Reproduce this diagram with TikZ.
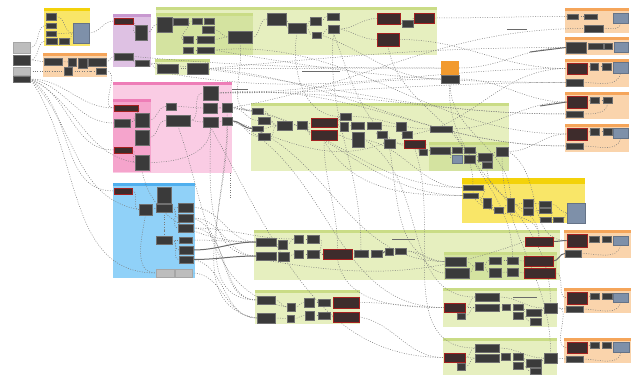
\documentclass[tikz,border=0pt]{standalone}
\usetikzlibrary{calc}
\definecolor{grnL}{HTML}{E6EFBF}
\definecolor{grnD}{HTML}{D4E3A0}
\definecolor{grnH}{HTML}{CADC86}
\definecolor{yelB}{HTML}{F9E668}
\definecolor{yelH}{HTML}{F3D20A}
\definecolor{orgB}{HTML}{FAD4AC}
\definecolor{orgH}{HTML}{F5A55A}
\definecolor{orgS}{HTML}{F29A2E}
\definecolor{purB}{HTML}{DEC1E3}
\definecolor{purH}{HTML}{C898D0}
\definecolor{pnkB}{HTML}{FACCE4}
\definecolor{pnkD}{HTML}{F5A4CC}
\definecolor{pnkH}{HTML}{EE7DB7}
\definecolor{bluB}{HTML}{90D1F8}
\definecolor{bluH}{HTML}{4FAFEE}
\definecolor{nodeF}{HTML}{3A3A3A}
\definecolor{nodeB}{HTML}{707070}
\definecolor{redF}{HTML}{3E2C2C}
\definecolor{redB}{HTML}{A52020}
\definecolor{panel}{HTML}{7E90A9}
\definecolor{lgray}{HTML}{BDBDBD}
\definecolor{wireC}{HTML}{7A7A7A}
\definecolor{busC}{HTML}{6A6A6A}
\pgfdeclarelayer{back}
\pgfdeclarelayer{mid}
\pgfsetlayers{back,mid,main}
\tikzset{
  dk/.style={rectangle,draw=nodeB,fill=nodeF,line width=0.4pt,inner sep=0pt},
  rd/.style={rectangle,draw=redB,fill=redF,line width=0.7pt,inner sep=0pt},
  bg/.style={rectangle,draw=panel!80!black,fill=panel,line width=0.3pt,inner sep=0pt},
  lg/.style={rectangle,draw=gray!70,fill=lgray,line width=0.3pt,inner sep=0pt},
  og/.style={rectangle,draw=none,fill=orgS,inner sep=0pt},
  wire/.style={draw=wireC,line width=0.5pt,dash pattern=on 0.9pt off 1.5pt},
  bus/.style={draw=busC,line width=1.0pt},
}
\newcommand\bx[6][dk]{\node[#1,minimum width={#5pt-#3pt},minimum height={#6pt-#4pt}] (#2) at ({(#3+#5)/2},{(#4+#6)/2}) {};}
\newcommand\grp[6]{\fill[#1] (#3,#4) rectangle (#5,#6); \fill[#2] (#3,#4) rectangle (#5,{#4+3});}
\begin{document}
\begin{tikzpicture}[x=1pt,y=-1pt]
\useasboundingbox (0,0) rectangle (633,375);
% ---------------- groups ----------------
\begin{pgfonlayer}{back}
\fill[white] (0,0) rectangle (633,375);
\grp{yelB}{yelH}{44}{8}{90}{46}
\grp{orgB}{orgH}{43}{53}{107}{77}
\grp{purB}{purH}{113}{14}{151}{67}
\grp{grnL}{grnH}{156}{7}{437}{55}
\grp{grnD}{grnH}{156}{13}{253}{55}
\grp{grnL}{grnH}{155}{59}{210}{75}
\grp{pnkB}{pnkH}{113}{82}{232}{173}
\grp{pnkD}{pnkH}{113}{99}{151}{172}
\grp{grnL}{grnH}{251}{103}{509}{171}
\grp{grnD}{grnH}{429}{142}{509}{171}
\grp{bluB}{bluH}{113}{183}{195}{278}
\grp{yelB}{yelH}{462}{178}{585}{223}
\fill[yelH] (462,178) rectangle (585,184);
\grp{grnL}{grnH}{254}{230}{560}{280}
\grp{grnD}{grnH}{444}{252}{557}{280}
\grp{grnL}{grnH}{255}{290}{360}{324}
\grp{grnL}{grnH}{443}{288}{557}{327}
\grp{grnL}{grnH}{443}{338}{557}{375}
\grp{orgB}{orgH}{565}{8}{629}{33}
\grp{orgB}{orgH}{565}{37}{629}{55}
\grp{orgB}{orgH}{565}{59}{629}{87}
\grp{orgB}{orgH}{565}{92}{629}{119}
\grp{orgB}{orgH}{565}{124}{629}{152}
\grp{orgB}{orgH}{564}{230}{631}{258}
\grp{orgB}{orgH}{564}{288}{631}{313}
\grp{orgB}{orgH}{564}{338}{631}{363}
\end{pgfonlayer}
% ---------------- nodes ----------------
% inputs
\bx[lg]{i1}{13}{42}{30}{53}
\bx{i2}{13}{55}{30}{65}
\bx[lg]{i3}{13}{67}{30}{75}
\bx{i4}{13}{76}{30}{82}
% yellow left
\bx{y1}{46}{13}{56}{20}
\bx{y2}{46}{23}{56}{28}
\bx{y3}{46}{31}{56}{36}
\bx{y4}{46}{38}{57}{44}
\bx{y5}{59}{38}{69}{44}
\bx[bg]{ypanel}{73}{23}{89}{43}
% orange left
\bx{o1}{44}{58}{62}{65}
\bx{o2}{68}{58}{76}{66}
\bx{o3}{78}{58}{87}{68}
\bx{o4}{88}{58}{106}{66}
\bx{o5}{64}{67}{72}{75}
\bx{o6}{96}{68}{106}{74}
% purple
\bx[rd]{p1}{114}{18}{133}{24}
\bx{p2}{135}{25}{147}{40}
\bx{p3}{114}{53}{133}{60}
\bx{p4}{135}{60}{149}{66}
% top green
\bx{t1}{157}{17}{172}{32}
\bx{t2}{173}{18}{188}{25}
\bx{t3}{192}{18}{202}{24}
\bx{t4}{204}{18}{214}{24}
\bx{t5}{202}{26}{214}{33}
\bx{t6}{183}{36}{193}{43}
\bx{t7}{197}{36}{214}{43}
\bx{t8}{183}{47}{193}{53}
\bx{t9}{197}{47}{214}{53}
\bx{t10}{228}{31}{252}{43}
\bx{t11}{267}{13}{286}{25}
\bx{t12}{288}{23}{306}{33}
\bx{t13}{310}{17}{321}{25}
\bx{t14}{312}{32}{321}{38}
\bx{t15}{327}{13}{339}{20}
\bx{t16}{328}{25}{339}{33}
\bx[rd]{t17}{377}{13}{400}{24}
\bx{t18}{402}{20}{413}{27}
\bx[rd]{t19}{414}{13}{434}{23}
\bx[rd]{t20}{377}{33}{399}{46}
% small green
\bx{s1}{157}{64}{178}{73}
\bx{s2}{187}{63}{208}{74}
% pink
\bx[rd]{k1}{114}{105}{138}{111}
\bx{k2}{135}{113}{149}{127}
\bx{k3}{114}{119}{130}{127}
\bx{k4}{135}{130}{149}{145}
\bx[rd]{k5}{114}{147}{132}{153}
\bx{k6}{135}{155}{149}{170}
\bx{k7}{166}{103}{176}{110}
\bx{k8}{166}{115}{190}{126}
\bx{k9}{203}{86}{218}{100}
\bx{k10}{203}{103}{217}{113}
\bx{k11}{222}{103}{232}{112}
\bx{k12}{203}{117}{218}{127}
\bx{k13}{222}{117}{232}{125}
% small orange
\bx[og]{q1}{441}{61}{459}{75}
\bx{q2}{441}{75}{459}{83}
% middle green
\bx{m1}{252}{108}{263}{114}
\bx{m2}{258}{117}{270}{124}
\bx{m3}{252}{126}{263}{131}
\bx{m4}{258}{133}{270}{140}
\bx{m5}{277}{121}{292}{130}
\bx{m6}{297}{121}{307}{129}
\bx[rd]{m7}{311}{118}{337}{127}
\bx[rd]{m8}{311}{130}{337}{140}
\bx{m9}{340}{113}{351}{120}
\bx{m10}{340}{122}{348}{131}
\bx{m11}{351}{122}{364}{129}
\bx{m12}{352}{132}{364}{147}
\bx{m13}{367}{122}{381}{129}
\bx{m14}{377}{131}{387}{138}
\bx{m15}{384}{139}{395}{148}
\bx{m16}{396}{122}{406}{131}
\bx{m17}{402}{131}{412}{138}
\bx[rd]{m18}{404}{140}{425}{148}
\bx{m19}{419}{149}{427}{155}
\bx{m20}{430}{126}{452}{132}
\bx{n1}{430}{147}{450}{154}
\bx{n2}{452}{147}{462}{153}
\bx[bg]{n3}{452}{155}{462}{163}
\bx{n4}{464}{147}{475}{153}
\bx{n5}{464}{155}{475}{163}
\bx{n6}{478}{153}{492}{161}
\bx{n7}{482}{162}{492}{168}
\bx{n8}{496}{147}{508}{156}
% right orange groups
\bx{r1a}{567}{14}{578}{19}
\bx{r1b}{584}{14}{597}{19}
\bx[bg]{r1c}{613}{13}{628}{23}
\bx{r1d}{584}{25}{603}{32}
\bx{r2a}{566}{42}{586}{53}
\bx{r2b}{588}{43}{603}{49}
\bx{r2c}{604}{43}{612}{49}
\bx[bg]{r2d}{614}{42}{628}{52}
\bx[rd]{r3a}{567}{63}{587}{74}
\bx{r3b}{590}{63}{598}{70}
\bx{r3c}{602}{63}{611}{70}
\bx[bg]{r3d}{613}{62}{628}{73}
\bx{r3e}{566}{79}{583}{86}
\bx[rd]{r4a}{567}{96}{587}{108}
\bx{r4b}{590}{97}{599}{103}
\bx{r4c}{603}{97}{612}{103}
\bx{r4e}{566}{111}{583}{117}
\bx[rd]{r5a}{567}{128}{587}{140}
\bx{r5b}{590}{128}{599}{135}
\bx{r5c}{603}{128}{612}{135}
\bx[bg]{r5d}{613}{128}{628}{138}
\bx{r5e}{566}{143}{583}{149}
\bx[rd]{r6a}{567}{234}{587}{247}
\bx{r6b}{589}{236}{599}{242}
\bx{r6c}{602}{236}{611}{242}
\bx[bg]{r6d}{613}{236}{628}{245}
\bx{r6e}{565}{250}{581}{257}
\bx[rd]{r7a}{567}{292}{587}{304}
\bx{r7b}{590}{293}{599}{299}
\bx{r7c}{602}{293}{612}{299}
\bx[bg]{r7d}{613}{293}{628}{302}
\bx{r7e}{566}{306}{583}{312}
\bx[rd]{r8a}{567}{342}{587}{353}
\bx{r8b}{590}{342}{599}{348}
\bx{r8c}{602}{342}{611}{348}
\bx[bg]{r8d}{613}{342}{629}{352}
\bx{r8e}{566}{356}{583}{362}
% yellow right
\bx{w1}{463}{185}{483}{190}
\bx{w2}{463}{193}{478}{198}
\bx{w3}{483}{198}{491}{208}
\bx{w4}{494}{207}{503}{213}
\bx{w5}{507}{198}{514}{212}
\bx{w6}{523}{199}{533}{207}
\bx{w7}{523}{208}{533}{215}
\bx{w8}{539}{201}{551}{207}
\bx{w9}{539}{208}{551}{213}
\bx{w10}{540}{217}{551}{222}
\bx{w11}{553}{217}{563}{222}
\bx[bg]{w12}{567}{203}{585}{223}
% blue
\bx[rd]{c1}{114}{188}{132}{194}
\bx{c2}{157}{187}{171}{203}
\bx{c3}{139}{204}{152}{215}
\bx{c4}{156}{204}{172}{212}
\bx{c5}{178}{203}{193}{212}
\bx{c6}{178}{214}{193}{222}
\bx{c7}{178}{224}{193}{232}
\bx{c8}{156}{236}{172}{244}
\bx{c9}{179}{237}{192}{243}
\bx{c10}{179}{246}{193}{254}
\bx{c11}{179}{256}{193}{263}
\bx[lg]{c12}{156}{269}{174}{277}
\bx[lg]{c13}{175}{269}{192}{277}
% middle-lower green
\bx{l1}{256}{238}{276}{246}
\bx{l2}{256}{252}{276}{260}
\bx{l3}{278}{240}{287}{249}
\bx{l4}{278}{252}{289}{261}
\bx{l5}{294}{235}{303}{243}
\bx{l6}{294}{250}{303}{258}
\bx{l7}{307}{235}{319}{243}
\bx{l8}{307}{250}{319}{258}
\bx[rd]{l9}{323}{249}{352}{259}
\bx{l10}{354}{250}{368}{257}
\bx{l11}{371}{250}{382}{257}
\bx{l12}{385}{248}{393}{255}
\bx{l13}{395}{248}{406}{254}
\bx[rd]{l14}{525}{237}{553}{246}
\bx{u1}{445}{257}{466}{266}
\bx{u2}{445}{268}{469}{278}
\bx{u3}{475}{262}{483}{270}
\bx{u4}{489}{257}{501}{264}
\bx{u5}{489}{268}{501}{277}
\bx{u6}{507}{257}{518}{264}
\bx{u7}{507}{268}{518}{276}
\bx[rd]{u8}{524}{256}{553}{266}
\bx[rd]{u9}{524}{268}{555}{278}
% lower-left green
\bx{v1}{257}{296}{275}{304}
\bx{v2}{257}{313}{275}{323}
\bx{v3}{287}{303}{295}{311}
\bx{v4}{287}{315}{294}{322}
\bx{v5}{304}{298}{314}{307}
\bx{v6}{305}{311}{314}{320}
\bx{v7}{318}{299}{330}{306}
\bx{v8}{318}{312}{330}{319}
\bx[rd]{v9}{333}{297}{359}{308}
\bx[rd]{v10}{333}{312}{359}{322}
% lower-right green 1
\bx{a1}{475}{293}{499}{301}
\bx{a2}{475}{304}{499}{311}
\bx[rd]{a3}{444}{303}{465}{312}
\bx{a4}{457}{313}{465}{319}
\bx{a5}{502}{304}{510}{310}
\bx{a6}{513}{304}{523}{310}
\bx{a7}{513}{312}{523}{319}
\bx{a8}{526}{309}{541}{316}
\bx{a9}{530}{318}{541}{325}
\bx{a10}{544}{303}{557}{313}
% lower-right green 2
\bx{b1}{475}{344}{499}{352}
\bx{b2}{475}{354}{499}{362}
\bx[rd]{b3}{444}{353}{465}{362}
\bx{b4}{457}{363}{465}{370}
\bx{b5}{501}{353}{510}{360}
\bx{b6}{513}{353}{523}{360}
\bx{b7}{513}{362}{523}{369}
\bx{b8}{526}{359}{541}{367}
\bx{b9}{530}{368}{541}{374}
\bx{b10}{544}{353}{557}{363}
% ---------------- connectors ----------------
\begin{pgfonlayer}{mid}
% inputs
\draw[wire] (i1.east) to[out=0,in=180] (y2.west);
\draw[wire] (i2.east) to[out=0,in=180] (y4.west);
\draw[wire] (i2.east) to[out=0,in=180] (o1.west);
\draw[wire] (i3.east) to[out=0,in=180] (o5.west);
\draw[wire] (i4.east) to[out=0,in=180] (k1.west);
\draw[wire] (i4.east) to[out=-10,in=180] (k3.west);
\draw[wire] (i4.east) to[out=-20,in=180] (k5.west);
\draw[wire] (i4.east) to[out=-35,in=180] (c1.west);
\draw[wire] (i4.east) to[out=-25,in=170] (k6.west);
\draw[wire] (i4.east) to[out=-45,in=170] (c3.west);
\draw[wire] (i4.east) to[out=-55,in=180] (c12.west);
% yellow / orange / purple
\draw[wire] (y1.east) to[out=0,in=180] (ypanel.west);
\draw[wire] (y3.east) to[out=0,in=180] (ypanel.west);
\draw[wire] (y5.east) to[out=0,in=180] (ypanel.west);
\draw[wire] (ypanel.east) to[out=0,in=180] (p1.west);
\draw[wire] (o1.east) -- (o2.west);
\draw[wire] (o3.east) -- (o4.west);
\draw[wire] (o5.east) to[out=0,in=180] (o6.west);
\draw[wire] (o4.east) to[out=0,in=180] (p3.west);
\draw[wire] (o6.east) to[out=0,in=180] (k1.west);
\draw[wire] (p1.east) to[out=0,in=180] (p2.west);
\draw[wire] (p2.east) to[out=0,in=180] (t1.west);
\draw[wire] (p4.east) to[out=0,in=180] (s1.west);
\draw[wire] (p3.east) to[out=0,in=180] (p4.west);
% top green
\draw[wire] (t1.east) -- (t2.west);
\draw[wire] (t2.east) -- (t3.west);
\draw[wire] (t3.east) -- (t4.west);
\draw[wire] (t2.east) to[out=0,in=180] (t6.west);
\draw[wire] (t6.east) -- (t7.west);
\draw[wire] (t8.east) -- (t9.west);
\draw[wire] (t5.east) to[out=0,in=180] (t10.west);
\draw[wire] (t7.east) to[out=0,in=180] (t10.west);
\draw[wire] (t10.east) to[out=0,in=180] (t11.west);
\draw[wire] (t11.east) to[out=0,in=180] (t12.west);
\draw[wire] (t12.east) to[out=0,in=180] (t13.west);
\draw[wire] (t12.east) to[out=0,in=180] (t14.west);
\draw[wire] (t13.east) to[out=0,in=180] (t15.west);
\draw[wire] (t14.east) to[out=0,in=180] (t16.west);
\draw[wire] (t16.east) to[out=0,in=180] (t17.west);
\draw[wire] (t17.east) to[out=0,in=180] (t18.west);
\draw[wire] (t18.east) to[out=0,in=180] (t19.west);
\draw[wire] (t19.east) to[out=0,in=180] (r1a.west);
\draw[wire] (t20.east) to[out=0,in=180] (r3a.west);
\draw[wire] (t16.east) to[out=-10,in=180] (t20.west);
\draw[wire] (t12.south) to[out=-100,in=180] (m9.west);
\draw[wire] (t10.south) to[out=-80,in=180] (m1.west);
% small green / long right
\draw[wire] (s1.east) -- (s2.west);
\draw[wire] (s2.east) to[out=0,in=180] (q1.west);
\draw[wire] (s2.east) to[out=5,in=180] (r2a.west);
\draw[wire] (t9.east) to[out=-10,in=180] (r3e.west);
\draw[wire] (p4.east) to[out=-5,in=180] (r4e.west);
\draw[wire] (p3.east) to[out=-5,in=180] (q1.west);
\draw[wire] (s1.south) to[out=-10,in=180] (r3a.west);
\draw[wire] (q2.east) to[out=0,in=180] (r4a.west);
\draw[wire] (q1.east) to[out=0,in=180] (r2a.west);
\draw[wire] (t14.east) to[out=-20,in=180] (q2.west);
% pink internal
\draw[wire] (k1.east) to[out=0,in=180] (k2.west);
\draw[wire] (k3.east) to[out=0,in=180] (k2.west);
\draw[wire] (k5.east) to[out=0,in=180] (k6.west);
\draw[wire] (k2.east) to[out=0,in=180] (k7.west);
\draw[wire] (k4.east) to[out=0,in=180] (k8.west);
\draw[wire] (k7.east) to[out=0,in=180] (k10.west);
\draw[wire] (k8.east) to[out=0,in=180] (k12.west);
\draw[wire] (k8.east) to[out=0,in=180] (k9.west);
\draw[wire] (k10.east) -- (k11.west);
\draw[wire] (k12.east) -- (k13.west);
\draw[wire] (k6.east) to[out=0,in=-90] (k12.south);
% pink to middle green and beyond
\draw[wire] (k11.east) to[out=0,in=180] (m1.west);
\draw[wire] (k11.east) to[out=0,in=180] (m2.west);
\draw[bus] (k13.east) to[out=0,in=180] (m3.west);
\draw[wire] (k13.east) to[out=0,in=180] (m4.west);
\draw[wire] (k9.east) to[out=0,in=180] (r3e.west);
\draw[wire] (k9.east) to[out=5,in=180] (r5e.west);
\draw[wire] (k9.east) to[out=2,in=180] (r4e.west);
\draw[wire] (k10.east) to[out=0,in=180] (w1.west);
\draw[wire] (k11.east) to[out=-5,in=180] (w2.west);
\draw[wire] (k13.east) to[out=-15,in=180] (u1.west);
\draw[wire] (k13.east) to[out=-25,in=180] (a3.west);
\draw[wire] (k12.south) to[out=-60,in=180] (b3.west);
\draw[wire] (k9.east) to[out=0,in=180] (q2.west);
% middle green internal
\draw[wire] (m1.east) to[out=0,in=180] (m5.west);
\draw[wire] (m2.east) to[out=0,in=180] (m5.west);
\draw[wire] (m3.east) to[out=0,in=180] (m5.west);
\draw[wire] (m4.east) to[out=0,in=180] (m5.west);
\draw[wire] (m5.east) -- (m6.west);
\draw[wire] (m6.east) to[out=0,in=180] (m7.west);
\draw[wire] (m6.east) to[out=0,in=180] (m8.west);
\draw[wire] (m7.east) to[out=0,in=180] (m9.west);
\draw[wire] (m7.east) to[out=0,in=180] (m10.west);
\draw[wire] (m10.east) -- (m11.west);
\draw[wire] (m11.east) -- (m13.west);
\draw[wire] (m8.east) to[out=0,in=180] (m12.west);
\draw[wire] (m13.east) to[out=0,in=180] (m14.west);
\draw[wire] (m14.east) to[out=0,in=180] (m15.west);
\draw[wire] (m13.east) -- (m16.west);
\draw[wire] (m16.east) to[out=0,in=180] (m17.west);
\draw[wire] (m15.east) to[out=0,in=180] (m18.west);
\draw[wire] (m18.east) to[out=0,in=180] (m19.west);
\draw[wire] (m9.east) to[out=0,in=180] (m20.west);
\draw[wire] (m19.east) to[out=0,in=180] (n1.west);
\draw[wire] (n1.east) -- (n2.west);
\draw[wire] (n1.east) to[out=0,in=180] (n3.west);
\draw[wire] (n2.east) -- (n4.west);
\draw[wire] (n3.east) -- (n5.west);
\draw[wire] (n4.east) to[out=0,in=180] (n6.west);
\draw[wire] (n5.east) to[out=0,in=180] (n7.west);
\draw[wire] (n6.east) to[out=0,in=180] (n8.west);
\draw[wire] (m3.south) to[out=-20,in=200] (m15.west);
% middle green to right
\draw[wire] (m20.east) to[out=0,in=180] (r4a.west);
\draw[wire] (n8.east) to[out=0,in=180] (r5a.west);
\draw[wire] (m17.east) to[out=10,in=180] (r3a.west);
\draw[wire] (m12.east) to[out=-30,in=180] (a1.west);
\draw[wire] (m15.south) to[out=-80,in=180] (u1.west);
\draw[wire] (m18.south) to[out=-70,in=180] (b1.west);
\draw[wire] (n8.east) to[out=-30,in=180] (r6a.west);
\draw[wire] (m8.south) to[out=-60,in=180] (w2.west);
\draw[wire] (m12.east) to[out=-10,in=180] (w1.west);
\draw[wire] (n7.south) to[out=-90,in=90] (l14.north);
\draw[wire] (m8.south) to[out=-90,in=90] (l9.north);
\draw[bus] (540,106) -- (r4a.west);
\draw[bus] (530,52) -- (r2a.west);
% right orange internal
\draw[wire] (r1a.east) -- (r1b.west);
\draw[wire] (r1d.east) to[out=0,in=-90] (r1c.south);
\draw[wire] (r2a.east) -- (r2b.west);
\draw[wire] (r2b.east) -- (r2c.west);
\draw[wire] (r2c.east) -- (r2d.west);
\draw[wire] (r3a.east) -- (r3b.west);
\draw[wire] (r3b.east) -- (r3c.west);
\draw[wire] (r3c.east) -- (r3d.west);
\draw[wire] (r3e.east) to[out=0,in=-100] (r3d.south);
\draw[wire] (r4a.east) -- (r4b.west);
\draw[wire] (r4b.east) -- (r4c.west);
\draw[wire] (r4e.east) to[out=0,in=-90] (r4c.south);
\draw[wire] (r5a.east) -- (r5b.west);
\draw[wire] (r5b.east) -- (r5c.west);
\draw[wire] (r5c.east) -- (r5d.west);
\draw[wire] (r5e.east) to[out=0,in=-100] (r5d.south);
\draw[wire] (r6a.east) -- (r6b.west);
\draw[wire] (r6b.east) -- (r6c.west);
\draw[wire] (r6c.east) -- (r6d.west);
\draw[wire] (r6e.east) to[out=0,in=-100] (r6d.south);
\draw[wire] (r7a.east) -- (r7b.west);
\draw[wire] (r7b.east) -- (r7c.west);
\draw[wire] (r7c.east) -- (r7d.west);
\draw[wire] (r7e.east) to[out=0,in=-100] (r7d.south);
\draw[wire] (r8a.east) -- (r8b.west);
\draw[wire] (r8b.east) -- (r8c.west);
\draw[wire] (r8c.east) -- (r8d.west);
\draw[wire] (r8e.east) to[out=0,in=-100] (r8d.south);
% yellow right
\draw[wire] (w1.east) to[out=0,in=180] (w3.west);
\draw[wire] (w2.east) to[out=0,in=180] (w3.west);
\draw[wire] (w3.east) to[out=0,in=180] (w4.west);
\draw[wire] (w4.east) to[out=0,in=180] (w5.west);
\draw[wire] (w5.east) to[out=0,in=180] (w6.west);
\draw[wire] (w5.east) to[out=0,in=180] (w7.west);
\draw[wire] (w6.east) -- (w8.west);
\draw[wire] (w7.east) -- (w9.west);
\draw[wire] (w9.east) to[out=0,in=180] (w11.west);
\draw[wire] (w10.east) -- (w11.west);
\draw[wire] (w11.east) to[out=0,in=180] (w12.west);
\draw[wire] (w8.east) to[out=0,in=180] (w12.west);
% blue internal
\draw[wire] (c1.east) to[out=0,in=180] (c3.west);
\draw[wire] (c3.east) -- (c4.west);
\draw[wire] (c2.south) to[out=-90,in=90] (c4.north);
\draw[wire] (c4.east) -- (c5.west);
\draw[wire] (c4.east) to[out=0,in=180] (c6.west);
\draw[wire] (c4.east) to[out=0,in=180] (c7.west);
\draw[wire] (c4.south) to[out=-90,in=90] (c8.north);
\draw[wire] (c8.east) to[out=0,in=180] (c9.west);
\draw[wire] (c8.east) to[out=0,in=180] (c10.west);
\draw[wire] (c8.east) to[out=0,in=180] (c11.west);
\draw[wire] (c3.south) to[out=-100,in=180] (c12.west);
% blue to lower greens
\draw[wire] (c5.east) to[out=0,in=180] (l1.west);
\draw[wire] (c6.east) to[out=0,in=180] (l2.west);
\draw[wire] (c7.east) to[out=0,in=180] (v1.west);
\draw[wire] (c9.east) to[out=0,in=180] (l1.west);
\draw[bus] (c10.east) to[out=0,in=180] (l1.west);
\draw[bus] (c11.east) to[out=0,in=180] (l2.west);
\draw[wire] (c11.east) to[out=-10,in=180] (v2.west);
\draw[wire] (c13.east) to[out=0,in=180] (v2.west);
\draw[wire] (c7.east) to[out=0,in=180] (l5.west);
\draw[wire] (c6.east) to[out=-20,in=180] (v1.west);
% pink bottom down to lower groups
\draw[wire] (k6.south) to[out=-80,in=180] (l1.west);
\draw[wire] (k13.south) to[out=-90,in=180] (v1.west);
\draw[wire] (k12.south) to[out=-90,in=180] (l2.west);
\draw[wire] (k8.south) to[out=-70,in=170] (v3.west);
\draw[wire] (k11.south) to[out=-85,in=170] (v2.west);
% middle-lower green internal
\draw[wire] (l1.east) -- (l3.west);
\draw[wire] (l2.east) -- (l4.west);
\draw[wire] (l3.east) to[out=0,in=180] (l5.west);
\draw[wire] (l4.east) -- (l6.west);
\draw[wire] (l5.east) -- (l7.west);
\draw[wire] (l6.east) -- (l8.west);
\draw[wire] (l8.east) -- (l9.west);
\draw[wire] (l7.east) to[out=0,in=180] (l9.west);
\draw[wire] (l9.east) -- (l10.west);
\draw[wire] (l10.east) -- (l11.west);
\draw[bus] (l11.east) to[out=0,in=180] (l12.west);
\draw[wire] (l12.east) -- (l13.west);
\draw[wire] (l13.east) to[out=0,in=180] (u1.west);
\draw[wire] (l13.east) to[out=0,in=180] (u2.west);
\draw[wire] (l2.south) to[out=-10,in=200] (l14.west);
\draw[wire] (l9.south) to[out=-80,in=180] (a3.west);
\draw[wire] (u1.east) to[out=0,in=180] (u3.west);
\draw[wire] (u2.east) to[out=0,in=180] (u3.west);
\draw[wire] (u3.east) to[out=0,in=180] (u4.west);
\draw[wire] (u3.east) to[out=0,in=180] (u5.west);
\draw[wire] (u4.east) -- (u6.west);
\draw[wire] (u5.east) -- (u7.west);
\draw[wire] (u6.east) -- (u8.west);
\draw[wire] (u7.east) -- (u9.west);
\draw[bus] (l14.east) to[out=0,in=180] (r6a.west);
\draw[bus] (u8.east) to[out=0,in=180] (r6e.west);
\draw[wire] (w1.south) to[out=-90,in=90] (l14.north);
\draw[bus] (392,239) -- (415,239);
% lower-left green
\draw[wire] (v1.east) to[out=0,in=180] (v3.west);
\draw[wire] (v2.east) to[out=0,in=180] (v4.west);
\draw[wire] (v3.east) to[out=0,in=180] (v5.west);
\draw[wire] (v4.east) to[out=0,in=180] (v6.west);
\draw[wire] (v5.east) -- (v7.west);
\draw[wire] (v6.east) -- (v8.west);
\draw[wire] (v7.east) -- (v9.west);
\draw[wire] (v8.east) -- (v10.west);
\draw[wire] (v9.east) to[out=0,in=180] (a3.west);
\draw[wire] (v10.east) to[out=-10,in=180] (b3.west);
% lower right green 1
\draw[wire] (a3.east) to[out=0,in=180] (a1.west);
\draw[wire] (a3.east) -- (a2.west);
\draw[wire] (a4.east) to[out=0,in=180] (a2.west);
\draw[wire] (a2.east) -- (a5.west);
\draw[wire] (a5.east) -- (a6.west);
\draw[wire] (a6.east) to[out=0,in=180] (a8.west);
\draw[wire] (a7.east) to[out=0,in=180] (a9.west);
\draw[wire] (a8.east) to[out=0,in=180] (a10.west);
\draw[wire] (a1.east) to[out=0,in=180] (a10.west);
\draw[wire] (a10.east) to[out=0,in=180] (r7e.west);
\draw[bus] (513,297) -- (537,297);
% lower right green 2
\draw[wire] (b3.east) to[out=0,in=180] (b1.west);
\draw[wire] (b3.east) -- (b2.west);
\draw[wire] (b4.east) to[out=0,in=180] (b2.west);
\draw[wire] (b2.east) -- (b5.west);
\draw[wire] (b5.east) -- (b6.west);
\draw[wire] (b6.east) to[out=0,in=180] (b8.west);
\draw[wire] (b7.east) to[out=0,in=180] (b9.west);
\draw[wire] (b8.east) to[out=0,in=180] (b10.west);
\draw[wire] (b1.east) to[out=0,in=180] (b10.west);
\draw[wire] (b10.east) to[out=0,in=180] (r8e.west);
% long cross lines
\draw[wire] (u9.east) to[out=0,in=180] (r7a.west);
\draw[wire] (a10.east) to[out=10,in=180] (r8a.west);
\draw[wire] (t20.south) to[out=-80,in=90] (w1.north);
\draw[wire] (t16.south) to[out=-70,in=180] (n1.west);
\draw[wire] (t16.south) to[out=-95,in=90] (l10.north);
\draw[wire] (q2.south) to[out=-90,in=90] (w5.north);
\draw[wire] (q2.south) to[out=-95,in=90] (u6.north);
\draw[wire] (m20.east) to[out=-60,in=90] (a10.north);
\draw[wire] (n8.south) to[out=-90,in=90] (b10.north);
\draw[wire] (k11.east) to[out=10,in=180] (r1d.west);
\draw[wire] (t9.east) to[out=5,in=180] (r5a.west);
\draw[wire] (s2.east) to[out=-5,in=180] (r5e.west);
\draw[bus] (302,71) -- (340,71);
\draw[bus] (232,89) -- (248,89);
\draw[bus] (507,29) -- (527,29);
\draw[wire] (230,173) -- (230,198);
\end{pgfonlayer}
\end{tikzpicture}
\end{document}
